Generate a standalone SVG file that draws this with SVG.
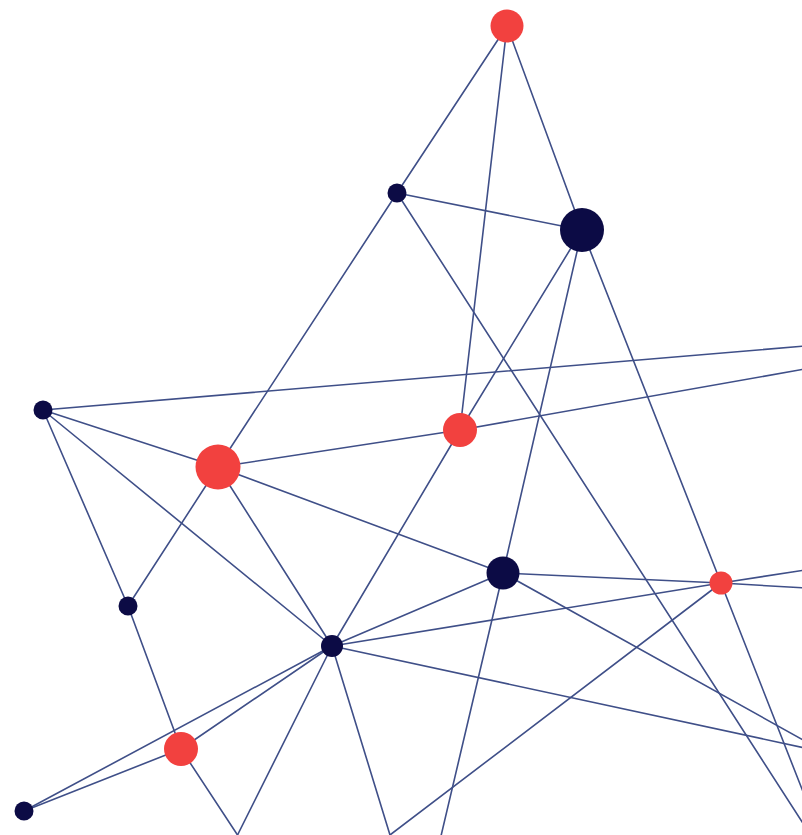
<svg xmlns="http://www.w3.org/2000/svg" width="802" height="835" viewBox="0 0 802 835">
<style>
.e{stroke:#3f4f88;stroke-width:1.6;fill:none;stroke-linecap:round}
.r{fill:#f2413f}
.n{fill:#0c0b45}
</style>
<rect width="802" height="835" fill="#ffffff"/>
<g id="connectors">
<line class="e" x1="507" y1="26" x2="397" y2="193"/>
<line class="e" x1="507" y1="26" x2="460" y2="430"/>
<line class="e" x1="507" y1="26" x2="582" y2="230"/>
<line class="e" x1="397" y1="193" x2="582" y2="230"/>
<line class="e" x1="397" y1="193" x2="218" y2="467"/>
<line class="e" x1="397" y1="193" x2="815" y2="842"/>
<line class="e" x1="582" y1="230" x2="460" y2="430"/>
<line class="e" x1="582" y1="230" x2="503" y2="573"/>
<line class="e" x1="503" y1="573" x2="441" y2="836"/>
<line class="e" x1="582" y1="230" x2="721" y2="583"/>
<line class="e" x1="721" y1="583" x2="822" y2="840"/>
<line class="e" x1="43" y1="410" x2="805" y2="346"/>
<line class="e" x1="43" y1="410" x2="218" y2="467"/>
<line class="e" x1="43" y1="410" x2="332" y2="646"/>
<line class="e" x1="43" y1="410" x2="128" y2="606"/>
<line class="e" x1="218" y1="467" x2="460" y2="430"/>
<line class="e" x1="460" y1="430" x2="805" y2="369"/>
<line class="e" x1="218" y1="467" x2="128" y2="606"/>
<line class="e" x1="218" y1="467" x2="332" y2="646"/>
<line class="e" x1="218" y1="467" x2="503" y2="573"/>
<line class="e" x1="460" y1="430" x2="332" y2="646"/>
<line class="e" x1="503" y1="573" x2="721" y2="583"/>
<line class="e" x1="721" y1="583" x2="805" y2="588"/>
<line class="e" x1="503" y1="573" x2="332" y2="646"/>
<line class="e" x1="503" y1="573" x2="805" y2="741"/>
<line class="e" x1="332" y1="646" x2="721" y2="583"/>
<line class="e" x1="721" y1="583" x2="805" y2="570"/>
<line class="e" x1="332" y1="646" x2="805" y2="748"/>
<line class="e" x1="332" y1="646" x2="181" y2="749"/>
<line class="e" x1="332" y1="646" x2="24" y2="811"/>
<line class="e" x1="24" y1="811" x2="181" y2="749"/>
<line class="e" x1="128" y1="606" x2="181" y2="749"/>
<line class="e" x1="181" y1="749" x2="237.5" y2="835"/>
<line class="e" x1="332" y1="646" x2="237.5" y2="835"/>
<line class="e" x1="332" y1="646" x2="390" y2="835"/>
<line class="e" x1="721" y1="583" x2="390" y2="835"/>
</g>
<g id="node-a"><circle class="r" cx="507" cy="26" r="16.5"/></g>
<g id="node-b"><circle class="n" cx="397" cy="193" r="9.5"/></g>
<g id="node-c"><circle class="n" cx="582" cy="230" r="22"/></g>
<g id="node-d"><circle class="n" cx="43" cy="410" r="9.5"/></g>
<g id="node-e"><circle class="r" cx="460" cy="430" r="17"/></g>
<g id="node-f"><circle class="r" cx="218" cy="467" r="22.5"/></g>
<g id="node-g"><circle class="n" cx="503" cy="573" r="16.5"/></g>
<g id="node-h"><circle class="r" cx="721" cy="583" r="11.5"/></g>
<g id="node-i"><circle class="n" cx="128" cy="606" r="9.5"/></g>
<g id="node-j"><circle class="n" cx="332" cy="646" r="11"/></g>
<g id="node-k"><circle class="r" cx="181" cy="749" r="17"/></g>
<g id="node-l"><circle class="n" cx="24" cy="811" r="9.5"/></g>
</svg>
